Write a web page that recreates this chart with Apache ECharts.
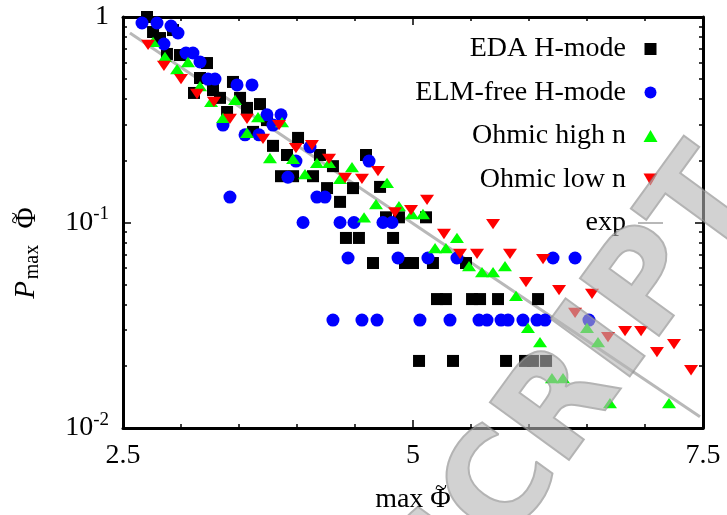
<!DOCTYPE html>
<html><head><meta charset="utf-8">
<script src="https://cdn.jsdelivr.net/npm/echarts@6/dist/echarts.min.js"></script>
<style>html,body{margin:0;padding:0;background:#fff}#c{width:727px;height:515px}</style>
</head><body><div id="c"></div>
<script>
// ---- data ----
const edaX = [2.707,2.759,2.819,2.931,2.879,2.991,3.224,3.164,3.276,3.112,3.336,3.448,3.509,3.681,3.397,3.569,3.741,3.621,3.793,4.009,3.914,4.198,4.595,3.862,3.966,4.138,4.310,4.259,4.483,4.371,4.716,4.767,4.879,5.112,4.422,4.534,4.828,4.655,4.931,5.000,5.172,5.457,5.207,5.284,5.509,5.578,5.733,6.078,5.052,5.345,5.802,5.966,6.034,6.147];
const edaY = [1.0,0.845,0.790,0.864,0.661,0.653,0.597,0.505,0.441,0.427,0.404,0.483,0.404,0.377,0.345,0.361,0.315,0.276,0.236,0.258,0.213,0.213,0.213,0.168,0.168,0.168,0.188,0.147,0.147,0.126,0.149,0.106,0.106,0.106,0.0841,0.0841,0.0841,0.0635,0.0635,0.0635,0.0635,0.0635,0.0424,0.0424,0.0424,0.0424,0.0424,0.0424,0.0212,0.0212,0.0212,0.0212,0.0212,0.0212];
const elmX = [2.664,2.793,2.914,2.974,2.853,3.043,3.103,3.164,3.233,3.293,3.483,3.612,3.362,3.741,3.862,3.793,3.552,3.672,4.112,3.991,4.621,3.922,3.422,4.172,4.241,4.052,4.371,4.491,4.741,4.819,4.440,4.871,5.129,5.379,6.207,6.397,4.310,4.560,4.690,5.060,5.319,5.569,5.638,5.759,5.819,5.948,6.069,6.138,6.517];
const elmY = [0.935,0.935,0.904,0.836,0.739,0.668,0.668,0.604,0.499,0.499,0.467,0.467,0.298,0.334,0.334,0.298,0.267,0.267,0.233,0.199,0.199,0.166,0.133,0.133,0.133,0.100,0.100,0.100,0.100,0.100,0.0672,0.0672,0.0672,0.0672,0.0672,0.0672,0.0335,0.0335,0.0335,0.0335,0.0335,0.0335,0.0335,0.0335,0.0335,0.0335,0.0335,0.0335,0.0335];
const ohHiX = [2.759,2.862,3.060,2.966,3.164,3.259,3.466,3.362,3.664,3.569,3.871,3.767,3.966,4.069,4.172,4.276,4.474,4.371,4.776,4.681,4.578,4.879,4.991,5.086,5.190,5.284,5.379,5.483,5.595,5.690,5.793,5.888,5.991,6.095,6.198,6.293,6.500,6.595,6.698,7.207];
const ohHiY = [0.756,0.639,0.604,0.558,0.461,0.386,0.395,0.323,0.326,0.273,0.308,0.206,0.204,0.172,0.195,0.195,0.186,0.163,0.156,0.123,0.106,0.120,0.110,0.110,0.0751,0.0751,0.0841,0.0614,0.0574,0.0574,0.0614,0.0439,0.0307,0.0262,0.0175,0.0175,0.0307,0.0262,0.0132,0.0132];
const ohLoX = [2.716,2.853,3.000,3.138,3.284,3.422,3.569,3.707,3.845,3.991,4.129,4.276,4.414,4.560,4.698,4.845,4.983,5.121,5.267,5.405,5.552,5.690,5.836,6.121,5.974,6.259,6.543,6.397,6.681,6.828,6.966,7.103,7.250,7.397];
const ohLoY = [0.731,0.578,0.499,0.422,0.386,0.319,0.319,0.255,0.298,0.230,0.238,0.204,0.165,0.163,0.178,0.112,0.115,0.129,0.0879,0.0703,0.0703,0.0983,0.0703,0.0664,0.0513,0.0469,0.0449,0.0363,0.0277,0.0296,0.0296,0.0234,0.0256,0.0191];
const expX = [2.56, 7.474];
const expY = [0.836, 0.01135];
const seriesNames = ['EDA H-mode','ELM-free H-mode','Ohmic high n','Ohmic low n','exp'];
const xMajorTicks = [2.5, 5, 7.5];
const xTickLabels = ['2.5','5','7.5'];
const yMajorTicks = [0.01, 0.1, 1];
const yMinorTicks = [0.02,0.03,0.04,0.05,0.06,0.07,0.08,0.09,0.2,0.3,0.4,0.5,0.6,0.7,0.8,0.9];

const zip = (a, b) => a.map((v, i) => [v, b[i]]);
const FONT = '"Liberation Serif","Times New Roman",serif';

const chart = echarts.init(document.getElementById('c'), null, {renderer: 'canvas'});
const lineAx = {show: true, lineStyle: {color: '#000', width: 3}};
function xAx(pos, major, labels) {
  return {
    type: 'value', position: pos, min: 2.5, max: 7.5, interval: 0.5,
    axisLine: major ? {show: false} : lineAx,
    splitLine: {show: false},
    axisTick: major ? {show: true, inside: true, length: 8, customValues: xMajorTicks, lineStyle: {color: '#000', width: 1.5}}
                    : {show: true, inside: true, length: 4, lineStyle: {color: '#000', width: 1.5}},
    axisLabel: labels ? {show: true, customValues: xMajorTicks, margin: 14, color: '#000', fontFamily: FONT, fontSize: 28,
      formatter: v => { const i = xMajorTicks.findIndex(t => Math.abs(t - v) < 1e-6); return i >= 0 ? xTickLabels[i] : ''; }}
      : {show: false}
  };
}
function yAx(pos, major, labels) {
  return {
    type: 'log', logBase: 10, position: pos, min: 0.01, max: 1,
    axisLine: major ? {show: false} : lineAx,
    splitLine: {show: false}, minorSplitLine: {show: false},
    axisTick: major ? {show: true, inside: true, length: 8, customValues: yMajorTicks, lineStyle: {color: '#000', width: 1.5}}
                    : {show: true, inside: true, length: 4, customValues: yMinorTicks, lineStyle: {color: '#000', width: 1.5}},
    axisLabel: labels ? {show: true, customValues: yMajorTicks, margin: 14, color: '#000', fontFamily: FONT, fontSize: 28,
      formatter: v => { const e = Math.round(Math.log10(v)); return e === 0 ? '1' : '10{s|' + e + '}'; },
      rich: {s: {fontSize: 19, fontFamily: FONT, color: '#000', padding: [0, 0, 16, 0]}}}
      : {show: false}
  };
}
const rot = Math.PI / 2;
const option = {
  animation: false,
  backgroundColor: '#fff',
  grid: {left: 123, right: 24, top: 17, bottom: 87, containLabel: false},
  xAxis: [xAx('bottom', false, false), xAx('bottom', true, true), xAx('top', false, false), xAx('top', true, false)],
  yAxis: [yAx('left', false, false), yAx('left', true, true), yAx('right', false, false), yAx('right', true, false)],
  legend: {
    orient: 'vertical', right: 58, top: 30, align: 'right',
    itemWidth: 25, itemHeight: 12, itemGap: 15.5,
    data: [
      {name: seriesNames[0]}, {name: seriesNames[1]}, {name: seriesNames[2]}, {name: seriesNames[3]},
      {name: seriesNames[4], itemStyle: {color: 'rgba(0,0,0,0)', borderWidth: 0, opacity: 0}}
    ],
    textStyle: {fontFamily: FONT, fontSize: 28, color: '#000', lineHeight: 28, padding: [0, 7, 0, 0]}
  },
  graphic: [
    // y axis title (rotated): P_max Phi-tilde
    {type: 'text', x: 26, y: 290, rotation: rot, silent: true,
     style: {text: 'P', align: 'center', verticalAlign: 'middle', fontFamily: FONT, fontSize: 29, fontStyle: 'italic', fill: '#000'}},
    {type: 'text', x: 33, y: 262, rotation: rot, silent: true,
     style: {text: 'max', align: 'center', verticalAlign: 'middle', fontFamily: FONT, fontSize: 20, fill: '#000'}},
    {type: 'text', x: 27, y: 218, rotation: rot, silent: true,
     style: {text: '\u03A6', align: 'center', verticalAlign: 'middle', fontFamily: FONT, fontSize: 29, fill: '#000'}},
    {type: 'text', x: 15, y: 218, rotation: rot, silent: true,
     style: {text: '~', align: 'center', verticalAlign: 'middle', fontFamily: FONT, fontSize: 22, fill: '#000'}},
    // x axis title
    {type: 'text', x: 413, y: 500, silent: true,
     style: {text: 'max \u03A6', align: 'center', verticalAlign: 'middle', fontFamily: FONT, fontSize: 28, fill: '#000'}},
    {type: 'text', x: 441, y: 488, silent: true,
     style: {text: '~', align: 'center', verticalAlign: 'middle', fontFamily: FONT, fontSize: 22, fill: '#000'}},
    // publisher watermark
    {type: 'text', x: 735, y: 172, rotation: 54 * Math.PI / 180, silent: true, z: 100,
     style: {text: 'MANUSCRIPT', align: 'right', verticalAlign: 'middle', fontFamily: '"DejaVu Sans"', fontWeight: 'bold', fontSize: 134,
       fill: 'rgba(180,180,180,0.6)', stroke: 'rgba(130,130,130,0.6)', lineWidth: 2}}
  ],
  series: [
    {name: 'exp', type: 'line', data: zip(expX, expY), symbol: 'none', z: 1, silent: true,
     lineStyle: {color: '#b8b8b8', width: 3}, itemStyle: {color: '#b8b8b8'}},
    {name: 'EDA H-mode', type: 'scatter', data: zip(edaX, edaY), symbol: 'path://M0,0 L12,0 L12,12 L0,12 Z', symbolSize: 12, symbolKeepAspect: true, z: 2,
     itemStyle: {color: '#000', opacity: 1}},
    {name: 'ELM-free H-mode', type: 'scatter', data: zip(elmX, elmY), symbol: 'circle', symbolSize: 13, symbolKeepAspect: true, z: 3,
     itemStyle: {color: '#0000ff', opacity: 1}},
    {name: 'Ohmic high n', type: 'scatter', data: zip(ohHiX, ohHiY), symbol: 'path://M7,0 L14,12 L0,12 Z', symbolSize: [14, 12], symbolKeepAspect: true, z: 4,
     itemStyle: {color: '#00ff00', opacity: 1}},
    {name: 'Ohmic low n', type: 'scatter', data: zip(ohLoX, ohLoY), symbol: 'path://M0,0 L14,0 L7,12 Z', symbolSize: [14, 12], symbolKeepAspect: true, z: 5,
     itemStyle: {color: '#ff0000', opacity: 1}}
  ]
};
chart.setOption(option);
</script></body></html>
